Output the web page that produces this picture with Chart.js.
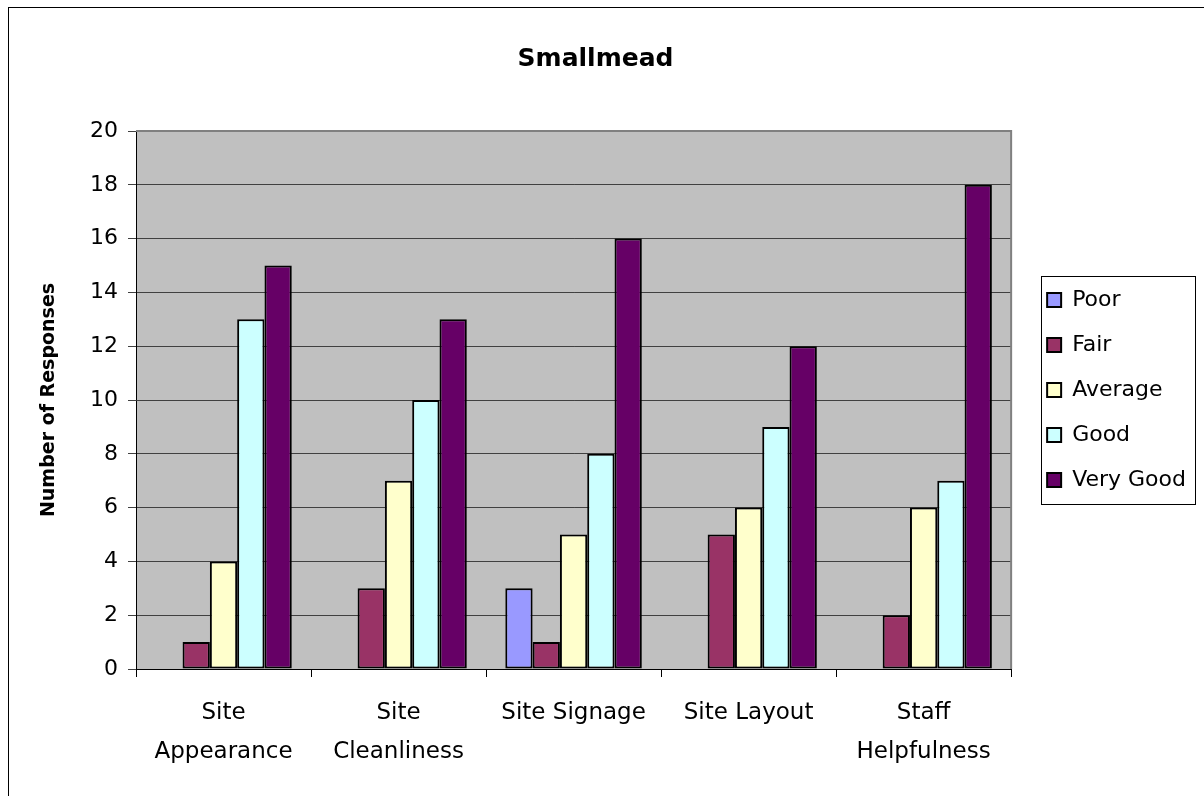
<!DOCTYPE html>
<html>
<head>
<meta charset="utf-8">
<title>Smallmead</title>
<script src="https://cdn.jsdelivr.net/npm/chart.js@4/dist/chart.umd.min.js"></script>
<style>
  html, body { margin: 0; padding: 0; background: #ffffff; }
  #wrap { width: 1204px; height: 796px; }
</style>
</head>
<body>
<div id="wrap"><canvas id="surveyChart" width="1204" height="796"></canvas></div>
<script>
// Site survey responses per question
const CATEGORIES = [['Site', 'Appearance'], ['Site', 'Cleanliness'], 'Site Signage', 'Site Layout', ['Staff', 'Helpfulness']];
const POOR      = [0, 0, 3, 0, 0];
const FAIR      = [1, 3, 1, 5, 2];
const AVERAGE   = [4, 7, 5, 6, 6];
const GOOD      = [13, 10, 8, 9, 7];
const VERY_GOOD = [15, 13, 16, 12, 18];
const Y_MAX  = 20;
const Y_STEP = 2;

const FONT = 'DejaVu Sans';

// grey plot area, outer frame, legend border
const framePlugin = {
  id: 'frame',
  afterLayout(chart) {
    // nudge the legend a bit away from the plot and up
    const lg = chart.legend;
    lg.left += 13; lg.right += 13;
    lg.top -= 8; lg.bottom -= 8;
  },
  beforeDraw(chart) {
    const { ctx, chartArea: a } = chart;
    ctx.save();
    ctx.fillStyle = '#ffffff';
    ctx.fillRect(0, 0, chart.width, chart.height);
    ctx.strokeStyle = '#000000';
    ctx.lineWidth = 1;
    ctx.strokeRect(8.5, 7.5, chart.width + 20, chart.height + 20);
    ctx.fillStyle = '#c0c0c0';
    ctx.fillRect(a.left, a.top, a.right - a.left, a.bottom - a.top);
    ctx.restore();
  },
  afterDatasetsDraw(chart) {
    const { ctx, chartArea: a } = chart;
    ctx.save();
    ctx.strokeStyle = '#808080';
    ctx.lineWidth = 2;
    ctx.beginPath();
    ctx.moveTo(a.left, a.top);
    ctx.lineTo(a.right, a.top);
    ctx.lineTo(a.right, a.bottom);
    ctx.stroke();
    ctx.restore();
  },
  afterDraw(chart) {
    const boxes = chart.legend.legendHitBoxes;
    if (!boxes || !boxes.length) return;
    const { ctx } = chart;
    const first = boxes[0];
    const last = boxes[boxes.length - 1];
    const right = Math.max(...boxes.map(b => b.left + b.width));
    ctx.save();
    ctx.strokeStyle = '#000000';
    ctx.lineWidth = 1;
    ctx.strokeRect(Math.round(first.left - 6) + 0.5, Math.round(first.top - 13) + 0.5,
      Math.round(right - first.left + 15), Math.round(last.top + last.height - first.top + 26));
    ctx.restore();
  }
};

function series(label, data, color) {
  return {
    label,
    data,
    backgroundColor: color,
    borderColor: '#000000',
    borderWidth: 2,
    borderSkipped: false,
    categoryPercentage: 0.78,
    barPercentage: 1.0
  };
}

new Chart(document.getElementById('surveyChart'), {
  type: 'bar',
  data: {
    labels: CATEGORIES,
    datasets: [
      series('Poor', POOR, '#9999ff'),
      series('Fair', FAIR, '#993366'),
      series('Average', AVERAGE, '#ffffcc'),
      series('Good', GOOD, '#ccffff'),
      series('Very Good', VERY_GOOD, '#660066')
    ]
  },
  options: {
    responsive: false,
    animation: false,
    devicePixelRatio: 1,
    layout: { padding: { left: 8, top: 0, right: 21, bottom: 0 } },
    scales: {
      x: {
        grid: { display: true, drawOnChartArea: false, drawTicks: true, tickLength: 8, color: '#000000' },
        border: { display: true, color: '#000000', width: 1 },
        ticks: {
          font: { family: FONT, size: 23, lineHeight: 1.7 },
          color: '#000000',
          padding: 16,
          maxRotation: 0,
          autoSkip: false
        },
        afterFit(scale) { scale.height = 127; }
      },
      y: {
        min: 0,
        max: Y_MAX,
        grid: { color: '#404040', lineWidth: 1, tickLength: 8, drawTicks: true },
        border: { display: true, color: '#000000', width: 1 },
        ticks: {
          stepSize: Y_STEP,
          font: { family: FONT, size: 22 },
          color: '#000000',
          padding: 10
        },
        title: {
          display: true,
          text: 'Number of Responses',
          font: { family: FONT, size: 19, weight: 'bold' },
          color: '#000000',
          padding: { top: 30, bottom: 0 }
        },
        afterFit(scale) { scale.width = 128; }
      }
    },
    plugins: {
      title: {
        display: true,
        text: 'Smallmead',
        font: { family: FONT, size: 25, weight: 'bold' },
        color: '#000000',
        padding: { top: 44, bottom: 57 }
      },
      legend: {
        position: 'right',
        labels: {
          font: { family: FONT, size: 22 },
          color: '#000000',
          boxWidth: 14,
          boxHeight: 14,
          padding: 23
        }
      },
      tooltip: { enabled: false }
    }
  },
  plugins: [framePlugin]
});
</script>
</body>
</html>
